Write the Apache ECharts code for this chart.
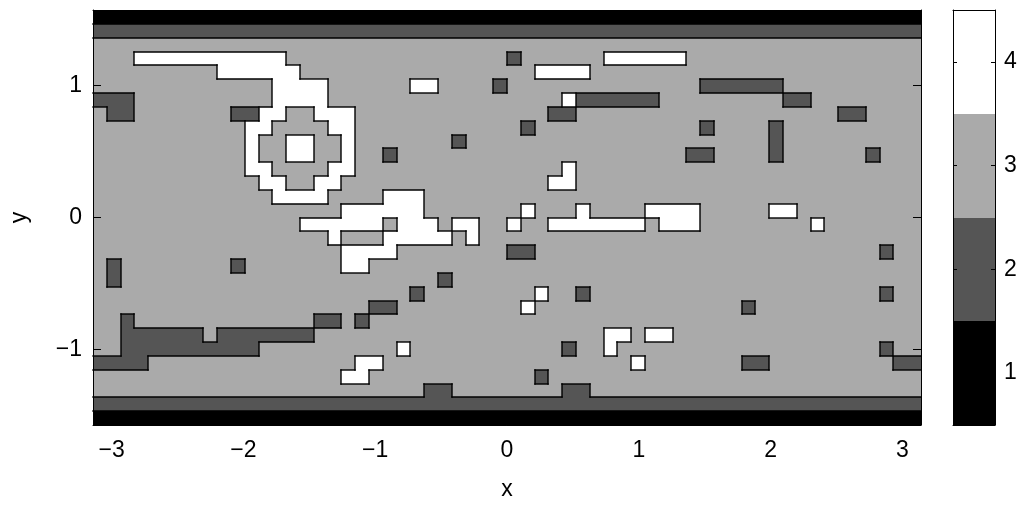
<!DOCTYPE html>
<html>
<head>
<meta charset="utf-8">
<script src="https://cdn.jsdelivr.net/npm/echarts@6/dist/echarts.min.js"></script>
<style>
  html, body { margin: 0; padding: 0; background: #ffffff; }
  #chart { width: 1027px; height: 506px; }
</style>
</head>
<body>
<div id="chart"></div>
<script>
// Axis ticks and colour levels
const xTicks = [-3, -2, -1, 0, 1, 2, 3];
const yTicks = [-1, 0, 1];
const levelTicks = [1, 2, 3, 4];
const levelColors = { 1: '#000000', 2: '#555555', 3: '#aaaaaa', 4: '#ffffff' };
const xRange = [-Math.PI, Math.PI];
const yRange = [-Math.PI / 2, Math.PI / 2];

// Class of every cell, top row first; 60 columns per row (spaces only group them by ten)
const rows = [
  '1111111111 1111111111 1111111111 1111111111 1111111111 1111111111',
  '2222222222 2222222222 2222222222 2222222222 2222222222 2222222222',
  '3333333333 3333333333 3333333333 3333333333 3333333333 3333333333',
  '3334444444 4444333333 3333333333 2333333444 4443333333 3333333333',
  '3333333334 4444433333 3333333333 3344443333 3333333333 3333333333',
  '3333333333 3334444333 3334433332 3333333333 3333222222 3333333333',
  '2223333333 3334444333 3333333333 3333422222 2333333333 2233333333',
  '3223333333 2244334443 3333333333 3332233333 3333333333 3333223333',
  '3333333333 3443333443 3333333333 3233333333 3333233332 3333333333',
  '3333333333 3433443343 3333332333 3333333333 3333333332 3333333333',
  '3333333333 3433443343 3233333333 3333333333 3332233332 3333332333',
  '3333333333 3443333443 3333333333 3333433333 3333333333 3333333333',
  '3333333333 3344334433 3333333333 3334433333 3333333333 3333333333',
  '3333333333 3334444333 3444333333 3333333333 3333333333 3333333333',
  '3333333333 3333333344 4444333333 3433343333 4444333334 4333333333',
  '3333333333 3333344444 4344434433 4334444444 3444333333 3343333333',
  '3333333333 3333333433 3444443433 3333333333 3333333333 3333333333',
  '3333333333 3333333344 4433333333 2233333333 3333333333 3333333233',
  '3233333333 2333333344 3333333333 3333333333 3333333333 3333333333',
  '3233333333 3333333333 3333323333 3333333333 3333333333 3333333333',
  '3333333333 3333333333 3332333333 3343323333 3333333333 3333333233',
  '3333333333 3333333333 2233333333 3433333333 3333333233 3333333333',
  '3323333333 3333332232 3333333333 3333333333 3333333333 3333333333',
  '3322222232 2222223333 3333333333 3333333443 4433333333 3333333333',
  '3322222222 2233333333 3343333333 3333233433 3333333333 3333333233',
  '2222333333 3333333334 4333333333 3333333334 3333333223 3333333322',
  '3333333333 3333333344 3333333333 3323333333 3333333333 3333333333',
  '3333333333 3333333333 3333223333 3333223333 3333333333 3333333333',
  '2222222222 2222222222 2222222222 2222222222 2222222222 2222222222',
  '1111111111 1111111111 1111111111 1111111111 1111111111 1111111111'
];

const grid = rows.map(s => s.replace(/ /g, '').split('').map(Number));
const nRows = grid.length;
const nCols = grid[0].length;
const dx = (xRange[1] - xRange[0]) / nCols;
const dy = (yRange[1] - yRange[0]) / nRows;

// One data item per cell: [x centre, y centre, column, row, class]
const cells = [];
for (let r = 0; r < nRows; r++) {
  for (let c = 0; c < nCols; c++) {
    cells.push([xRange[0] + (c + 0.5) * dx, yRange[1] - (r + 0.5) * dy, c, r, grid[r][c]]);
  }
}

// Class boundaries joined into straight runs, in grid units:
// horizontal runs [row boundary, first col, last col + 1], vertical runs [col boundary, first row, last row + 1]
const hRuns = [];
for (let b = 1; b < nRows; b++) {
  let start = -1;
  for (let c = 0; c <= nCols; c++) {
    const diff = c < nCols && grid[b - 1][c] !== grid[b][c];
    if (diff && start < 0) start = c;
    if (!diff && start >= 0) { hRuns.push([b, start, c]); start = -1; }
  }
}
const vRuns = [];
for (let b = 1; b < nCols; b++) {
  let start = -1;
  for (let r = 0; r <= nRows; r++) {
    const diff = r < nRows && grid[r][b - 1] !== grid[r][b];
    if (diff && start < 0) start = r;
    if (!diff && start >= 0) { vRuns.push([b, start, r]); start = -1; }
  }
}
const edgeItems = hRuns.map(h => [xRange[0] + (h[1] + h[2]) / 2 * dx, yRange[1] - h[0] * dy, 0, h[0], h[1], h[2]])
  .concat(vRuns.map(v => [xRange[0] + v[0] * dx, yRange[1] - (v[1] + v[2]) / 2 * dy, 1, v[0], v[1], v[2]]));

function px(api, c, r) {
  const p = api.coord([xRange[0] + c * dx, yRange[1] - r * dy]);
  return [Math.round(p[0]), Math.round(p[1])];
}

function renderCell(params, api) {
  const c = api.value(2), r = api.value(3), v = api.value(4);
  const a = px(api, c, r), b = px(api, c + 1, r + 1);
  return {
    type: 'rect',
    shape: { x: a[0], y: a[1], width: b[0] - a[0], height: b[1] - a[1] },
    style: { fill: levelColors[v] }
  };
}

function renderEdge(params, api) {
  const kind = api.value(2), at = api.value(3), from = api.value(4), to = api.value(5);
  let a, b;
  if (kind === 0) { a = px(api, from, at); b = px(api, to, at); a[0] -= 0.7; b[0] += 0.7; }
  else { a = px(api, at, from); b = px(api, at, to); a[1] -= 0.7; b[1] += 0.7; }
  return {
    type: 'line',
    shape: { x1: a[0], y1: a[1], x2: b[0], y2: b[1] },
    style: { stroke: '#000000', lineWidth: 1.4 }
  };
}

// Colour bar blocks: [x centre, level]
const barCells = levelTicks.map(l => [0.5, l]);
function renderBar(params, api) {
  const l = api.value(1);
  const p0 = api.coord([0, l + 0.5]);
  const p1 = api.coord([1, l - 0.5]);
  const x0 = Math.round(p0[0]), y0 = Math.round(p0[1]);
  const x1 = Math.round(p1[0]), y1 = Math.round(p1[1]);
  return {
    type: 'rect',
    shape: { x: x0, y: y0, width: x1 - x0, height: y1 - y0 },
    style: { fill: levelColors[l] }
  };
}

const font = 'Liberation Sans';
const labelStyle = { color: '#000000', fontFamily: font, fontSize: 23 };
const minus = v => (v < 0 ? '\u2212' + Math.abs(v) : String(v));
const lineBlack = { color: '#000000', width: 1 };
const plainLine = { show: true, onZero: false, lineStyle: lineBlack };

const chart = echarts.init(document.getElementById('chart'), null, { renderer: 'canvas' });
chart.setOption({
  animation: false,
  backgroundColor: '#ffffff',
  grid: [
    { left: 91, top: 10, width: 830, height: 415 },
    { left: 953, top: 10, width: 42, height: 415 }
  ],
  xAxis: [
    {
      gridIndex: 0, type: 'value', min: xRange[0], max: xRange[1], position: 'bottom', z: 10,
      axisLine: plainLine,
      axisTick: { show: true, inside: true, length: 8, lineStyle: lineBlack, customValues: xTicks },
      axisLabel: Object.assign({ customValues: xTicks, formatter: minus, margin: 14 }, labelStyle),
      splitLine: { show: false },
      name: 'x', nameLocation: 'middle', nameGap: 53, nameTextStyle: labelStyle
    },
    {
      gridIndex: 0, type: 'value', min: xRange[0], max: xRange[1], position: 'top', z: 10,
      axisLine: plainLine,
      axisTick: { show: true, inside: true, length: 8, lineStyle: lineBlack, customValues: xTicks },
      axisLabel: { show: false },
      splitLine: { show: false }
    },
    {
      gridIndex: 1, type: 'value', min: 0, max: 1, position: 'bottom', z: 10,
      axisLine: plainLine,
      axisTick: { show: false }, axisLabel: { show: false }, splitLine: { show: false }
    },
    {
      gridIndex: 1, type: 'value', min: 0, max: 1, position: 'top', z: 10,
      axisLine: plainLine,
      axisTick: { show: false }, axisLabel: { show: false }, splitLine: { show: false }
    }
  ],
  yAxis: [
    {
      gridIndex: 0, type: 'value', min: yRange[0], max: yRange[1], position: 'left', z: 10,
      axisLine: plainLine,
      axisTick: { show: true, inside: true, length: 8, lineStyle: lineBlack, customValues: yTicks },
      axisLabel: Object.assign({ customValues: yTicks, formatter: minus, margin: 11 }, labelStyle),
      splitLine: { show: false },
      name: 'y', nameLocation: 'middle', nameGap: 62, nameTextStyle: labelStyle
    },
    {
      gridIndex: 0, type: 'value', min: yRange[0], max: yRange[1], position: 'right', z: 10,
      axisLine: plainLine,
      axisTick: { show: true, inside: true, length: 8, lineStyle: lineBlack, customValues: yTicks },
      axisLabel: { show: false },
      splitLine: { show: false }
    },
    {
      gridIndex: 1, type: 'value', min: 0.5, max: 4.5, position: 'right', z: 10,
      axisLine: plainLine,
      axisTick: { show: true, inside: true, length: 4, lineStyle: lineBlack, customValues: levelTicks },
      axisLabel: Object.assign({ customValues: levelTicks, margin: 9 }, labelStyle),
      splitLine: { show: false }
    },
    {
      gridIndex: 1, type: 'value', min: 0.5, max: 4.5, position: 'left', z: 10,
      axisLine: plainLine,
      axisTick: { show: true, inside: true, length: 4, lineStyle: lineBlack, customValues: levelTicks },
      axisLabel: { show: false },
      splitLine: { show: false }
    }
  ],
  series: [
    {
      type: 'custom', xAxisIndex: 0, yAxisIndex: 0, clip: true, z: 1,
      renderItem: renderCell, encode: { x: 0, y: 1 }, data: cells, silent: true
    },
    {
      type: 'custom', xAxisIndex: 0, yAxisIndex: 0, clip: true, z: 2,
      renderItem: renderEdge, encode: { x: 0, y: 1 }, data: edgeItems, silent: true
    },
    {
      type: 'custom', xAxisIndex: 2, yAxisIndex: 2, clip: true, z: 1,
      renderItem: renderBar, encode: { x: 0, y: 1 }, data: barCells, silent: true
    }
  ]
});
</script>
</body>
</html>
